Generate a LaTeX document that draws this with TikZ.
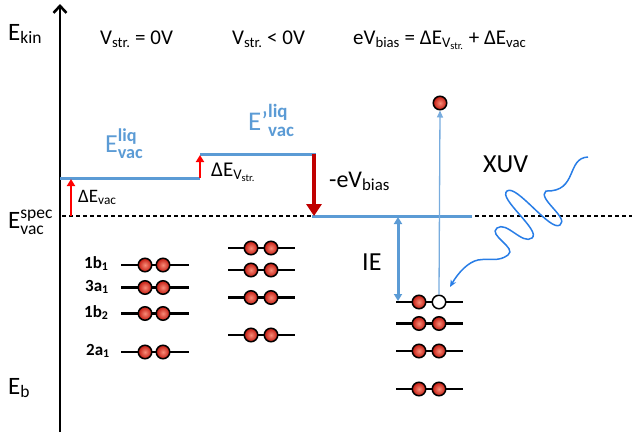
\documentclass[tikz,border=0pt]{standalone}
\usepackage{fontspec}
\setmainfont{Carlito}
\usepackage{amsmath}
\usetikzlibrary{arrows.meta}
\definecolor{lvlblue}{RGB}{91,155,213}
\definecolor{thinblue}{RGB}{120,172,222}
\definecolor{wavec}{RGB}{40,125,230}
\definecolor{dred}{RGB}{192,0,0}
\definecolor{eldark}{RGB}{195,25,15}
\definecolor{ellight}{RGB}{248,140,120}
\newcommand{\mytx}[1]{\text{#1}}
\newcommand{\mybf}[1]{\text{\bfseries #1}}
\begin{document}
\begin{tikzpicture}[x=1pt,y=-1pt,
  lbl/.style={inner sep=0pt, anchor=base west},
  elec/.style={circle, draw=black, line width=1.5pt, minimum size=13.5pt, inner sep=0pt, shading=radial, inner color=ellight, outer color=eldark},
  hole/.style={circle, draw=black, line width=1.5pt, minimum size=13.5pt, inner sep=0pt, fill=white},
  level/.style={line width=2.2pt, black},
  vacline/.style={line width=3pt, lvlblue},
  redup/.style={line width=2.6pt, red, -{Triangle[length=7pt,width=8pt]}},
  orbl/.style={lbl, font=\fontsize{17}{19}\selectfont\bfseries},
]
\useasboundingbox (0,0) rectangle (632,434);

% axis
\coordinate (ax0) at (60,432);
\coordinate (ax1) at (60,4);
\draw[line width=2.6pt, -{Straight Barb[length=7pt,width=13pt]}] (ax0) -- (ax1);

% dashed spectrometer vacuum level
\coordinate (d0) at (62,216);
\coordinate (d1) at (632,216);
\draw[dash pattern=on 4pt off 3pt, line width=1.1pt] (d0) -- (d1);

% vacuum levels (blue)
\coordinate (v1a) at (60,178);
\coordinate (v1b) at (200,178);
\coordinate (v2a) at (200,154);
\coordinate (v2b) at (316,154);
\coordinate (v3a) at (312,216);
\coordinate (v3b) at (472,216);
\draw[vacline] (v1a) -- (v1b);
\draw[vacline] (v2a) -- (v2b);
\draw[vacline] (v3a) -- (v3b);

% red arrows
\coordinate (r1a) at (71,216);
\coordinate (r1b) at (71,179);
\draw[redup] (r1a) -- (r1b);
\coordinate (r2a) at (200,178);
\coordinate (r2b) at (200,155);
\draw[redup] (r2a) -- (r2b);
\coordinate (r3a) at (314,154);
\coordinate (r3b) at (314,216);
\draw[line width=4pt, dred, -{Triangle[length=12pt,width=15pt]}] (r3a) -- (r3b);

% left orbitals
\foreach \y/\n in {265/a,287.5/b,313.5/c,352/d}{
  \coordinate (L\n0) at (121,\y);
  \coordinate (L\n1) at (189,\y);
  \draw[level] (L\n0) -- (L\n1);
  \node[elec] (La\n) at (145,\y) {};
  \node[elec] (Lb\n) at (163,\y) {};
}
% middle orbitals
\foreach \y/\n in {248/a,270/b,297.5/c,335/d}{
  \coordinate (M\n0) at (228,\y);
  \coordinate (M\n1) at (295,\y);
  \draw[level] (M\n0) -- (M\n1);
  \node[elec] (Ma\n) at (251,\y) {};
  \node[elec] (Mb\n) at (271,\y) {};
}
% right orbitals
\foreach \y/\n in {323.5/b,351/c,389/d}{
  \coordinate (R\n0) at (396,\y);
  \coordinate (R\n1) at (463,\y);
  \draw[level] (R\n0) -- (R\n1);
  \node[elec] (Ra\n) at (419,\y) {};
  \node[elec] (Rb\n) at (439,\y) {};
}
\coordinate (Ra0) at (396,302);
\coordinate (Ra1) at (463,302);
\draw[level] (Ra0) -- (Ra1);
\node[elec] (Raa) at (419,302) {};
\node[hole] (Rba) at (439,302) {};

% ejected electron
\node[elec] (ej) at (440,103) {};
\draw[line width=1.3pt, thinblue, -{Triangle[length=7pt,width=6pt]}] (Rba.north) -- (ej.south);

% IE arrow
\coordinate (ie0) at (398,217);
\coordinate (ie1) at (398,301);
\draw[line width=3pt, lvlblue, {Triangle[length=7pt,width=8pt]}-{Triangle[length=7pt,width=8pt]}] (ie0) -- (ie1);

% XUV wave
\coordinate (wstart) at (588,157);
\coordinate (wend) at (450,287);
\draw[line width=1.5pt, wavec, -{Stealth[length=7pt,width=6pt]}]
 (wstart) .. controls (566,158) and (578,192) .. (546,191)
 .. controls (536.4,198.2) and (569.6,217.8) .. (560,225)
 .. controls (550.4,232.2) and (516.6,183.8) .. (507,191)
 .. controls (497.4,198.2) and (541.6,230.8) .. (532,238)
 .. controls (522.4,245.2) and (506.6,220.8) .. (497,228)
 .. controls (487.4,235.2) and (517.6,247.8) .. (508,255)
 .. controls (498.4,262.2) and (490,258) .. (478,260)
 .. controls (468,262) and (458,273) .. (wend);

% labels
\node[lbl, font=\fontsize{25}{30}\selectfont] (ekin) at (8,40) {$\mytx{E}_{\mytx{kin}}$};
\node[lbl, font=\fontsize{25}{30}\selectfont] (espec) at (8,228) {$\mytx{E}^{\mytx{spec}}_{\mytx{vac}}$};
\node[lbl, font=\fontsize{25}{30}\selectfont] (eb) at (8,394) {$\mytx{E}_{\mytx{b}}$};

\node[lbl, font=\fontsize{21}{24}\selectfont] (vs0) at (100,44) {$\mytx{V}_{\mytx{str.}}$ = 0V};
\node[lbl, font=\fontsize{21}{24}\selectfont] (vs1) at (232,44) {$\mytx{V}_{\mytx{str.}}$ < 0V};
\node[lbl, font=\fontsize{21}{24}\selectfont] (bias) at (353,44) {$\mytx{eV}_{\mytx{bias}}$ = $\mytx{ΔE}_{\mytx{V}_{\mytx{str.}}}$ + $\mytx{ΔE}_{\mytx{vac}}$};

\node[lbl, font=\fontsize{26}{30}\selectfont, text=lvlblue] (eliq) at (105,152) {$\mytx{E}^{\mybf{liq}}_{\mybf{vac}}$};
\node[lbl, font=\fontsize{27}{30}\selectfont, text=lvlblue] (eliq2) at (248,130) {$\mytx{E’}^{\mybf{liq}}_{\mybf{vac}}$};

\node[lbl, font=\fontsize{19}{21}\selectfont] (devac) at (78,202) {$\mytx{ΔE}_{\mytx{vac}}$};
\node[lbl, font=\fontsize{21}{23}\selectfont] (dev) at (211,176) {$\mytx{ΔE}_{\mytx{V}_{\mytx{str.}}}$};
\node[lbl, font=\fontsize{24}{28}\selectfont] (ebias) at (329,187) {$\mytx{-eV}_{\mytx{bias}}$};
\node[lbl, font=\fontsize{26}{30}\selectfont] (xuv) at (483,172) {XUV};
\node[lbl, font=\fontsize{26}{30}\selectfont] (ie) at (362,270) {IE};

\node[orbl] (o1) at (84,268) {$\mybf{1b}_{\mybf{1}}$};
\node[orbl] (o2) at (85,291) {$\mybf{3a}_{\mybf{1}}$};
\node[orbl] (o3) at (84,317) {$\mybf{1b}_{\mybf{2}}$};
\node[orbl] (o4) at (86,355) {$\mybf{2a}_{\mybf{1}}$};
\end{tikzpicture}
\end{document}
